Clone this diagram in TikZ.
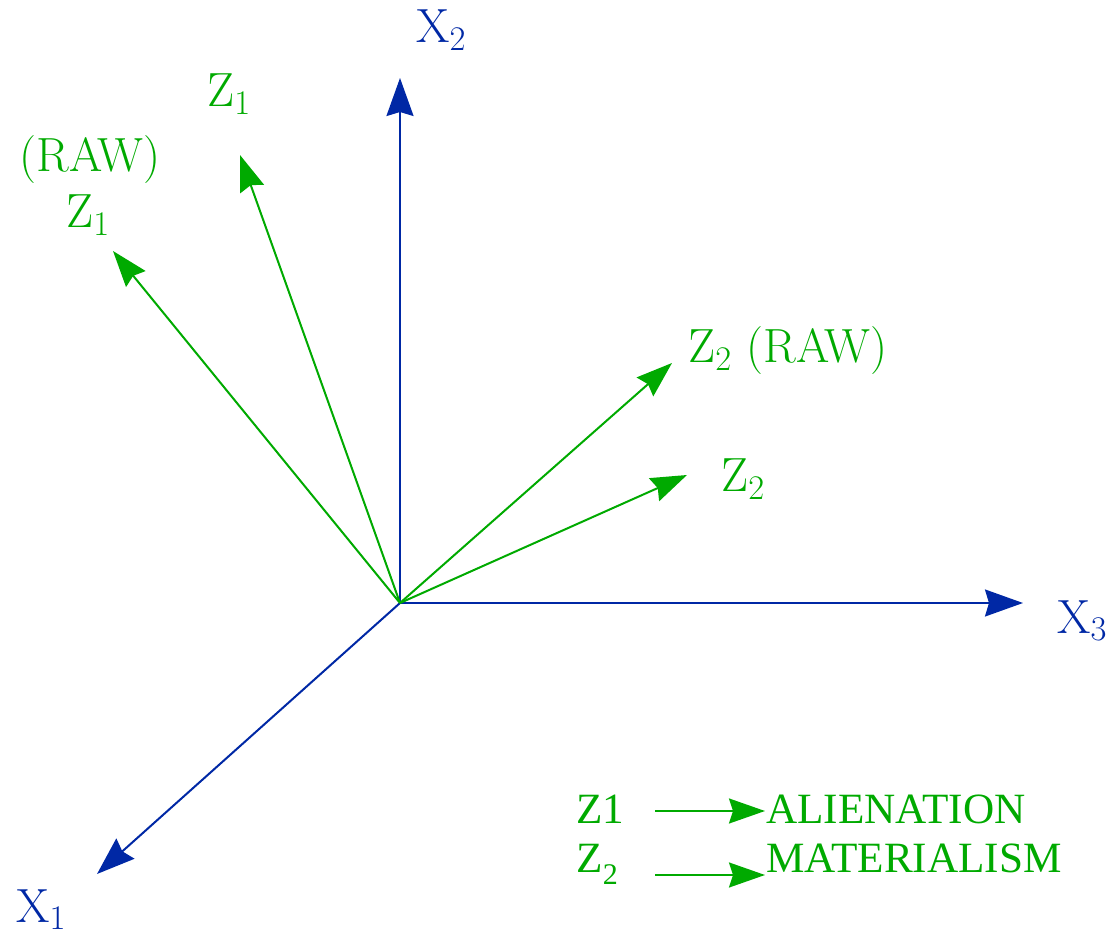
\documentclass[tikz,border=0pt]{standalone}
\usepackage{fontspec}
\newfontfamily\legendfont{Liberation Serif}
\usetikzlibrary{arrows.meta}
\definecolor{axisblue}{RGB}{0,40,165}
\definecolor{vecgreen}{RGB}{0,170,0}

\begin{document}
\begin{tikzpicture}[x=0.5pt,y=-0.5pt,
    axis/.style={line width=1pt, axisblue,
        -{Stealth[length=19pt,width=13.5pt,inset=2pt]}},
    vec/.style={line width=1pt, vecgreen,
        -{Stealth[length=18pt,width=12.5pt,inset=2pt]}},
    axlbl/.style={axisblue, inner sep=0pt, anchor=base west,
        font=\fontsize{24}{28}\selectfont},
    veclbl/.style={vecgreen, inner sep=0pt, anchor=base west,
        font=\fontsize{24}{28}\selectfont},
    keylbl/.style={vecgreen, inner sep=0pt, anchor=base west,
        font=\legendfont\fontsize{21.6}{24}\selectfont}]

  \useasboundingbox (0,0) rectangle (1109,935);

  \coordinate (O) at (400,603);

  % ---- the three axes ----
  \coordinate (X1) at (97,874);
  \coordinate (X2) at (400,78);
  \coordinate (X3) at (1023,603);
  \draw[axis] (O) -- (X1);
  \draw[axis] (O) -- (X2);
  \draw[axis] (O) -- (X3);
  \node[axlbl] (LX1) at (16,922) {X$_1$};
  \node[axlbl] (LX2) at (416,43) {X$_2$};
  \node[axlbl] (LX3) at (1057,633) {X$_3$};

  % ---- raw and rotated factor vectors ----
  \coordinate (Z1R) at (113,251);
  \coordinate (Z1) at (240,155);
  \coordinate (Z2R) at (672,363);
  \coordinate (Z2) at (687,475);
  \draw[vec] (O) -- (Z1R);
  \draw[vec] (O) -- (Z1);
  \draw[vec] (O) -- (Z2R);
  \draw[vec] (O) -- (Z2);
  \node[veclbl] (LRAW) at (19,172) {(RAW)};
  \node[veclbl] (LZ1R) at (66,228) {Z$_1$};
  \node[veclbl] (LZ1) at (207,107) {Z$_1$};
  \node[veclbl] (LZ2R) at (688,363) {Z$_2$ (RAW)};
  \node[veclbl] (LZ2) at (721,492) {Z$_2$};

  % ---- key ----
  \node[keylbl] (K1) at (576,823) {Z1};
  \node[keylbl] (K2) at (576,872)
      {Z\raisebox{-6pt}{\fontsize{15}{15}\selectfont 2}};
  \node[keylbl] (KA) at (766,823) {ALIENATION};
  \node[keylbl] (KM) at (766,872) {MATERIALISM};
  \coordinate (K1s) at (655,811);
  \coordinate (K1e) at (765,811);
  \coordinate (K2s) at (655,875);
  \coordinate (K2e) at (765,875);
  \draw[vec] (K1s) -- (K1e);
  \draw[vec] (K2s) -- (K2e);

\end{tikzpicture}
\end{document}
